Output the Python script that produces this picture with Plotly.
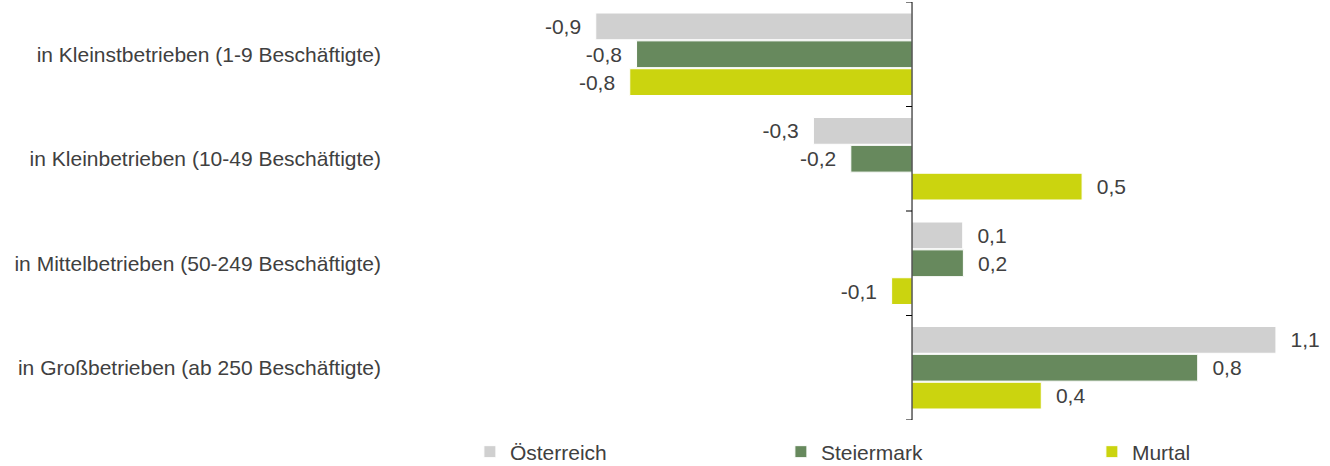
import plotly.graph_objects as go

categories = [
    "in Kleinstbetrieben (1-9 Beschäftigte)",
    "in Kleinbetrieben (10-49 Beschäftigte)",
    "in Mittelbetrieben (50-249 Beschäftigte)",
    "in Großbetrieben (ab 250 Beschäftigte)",
]
series_names = ["Österreich", "Steiermark", "Murtal"]
oesterreich = [-0.93, -0.29, 0.149, 1.07]
steiermark = [-0.81, -0.18, 0.151, 0.84]
murtal = [-0.83, 0.50, -0.06, 0.38]
series_values = [oesterreich, steiermark, murtal]
colors = ["#D0D0D0", "#67895D", "#CBD40F"]

FONT = "Liberation Sans, Arial, sans-serif"
TXT = "#404040"
NB = "\u00a0\u00a0"


def fmt(v):
    s = f"{v:.1f}".replace(".", ",")
    return s + NB if v < 0 else NB + s


fig = go.Figure()
for name, vals, col in zip(series_names, series_values, colors):
    fig.add_trace(go.Bar(
        y=categories, x=vals, orientation="h", name=name,
        marker=dict(color=col, line=dict(color="white", width=1)),
        text=[fmt(v) for v in vals], textposition="outside",
        textfont=dict(family=FONT, size=21, color=TXT),
        cliponaxis=False, hoverinfo="skip",
    ))

shapes = [dict(type="line", xref="x", yref="y", x0=0, x1=0, y0=-0.5, y1=3.5,
               line=dict(color="#000000", width=1), layer="above")]
for b in [-0.5, 0.5, 1.5, 2.5, 3.5]:
    shapes.append(dict(type="line", xref="x", yref="y", xsizemode="pixel",
                       xanchor=0, x0=-6, x1=0, y0=b, y1=b,
                       line=dict(color="#000000", width=1), layer="above"))

fig.update_layout(
    width=1330, height=466,
    margin=dict(l=390, r=0, t=2, b=46, autoexpand=False),
    paper_bgcolor="white", plot_bgcolor="white",
    barmode="group", bargap=0.2, bargroupgap=0.04,
    font=dict(family=FONT, size=21, color=TXT),
    xaxis=dict(range=[-1.535, 1.229], showgrid=False, zeroline=False,
               showticklabels=False, showline=False, ticks="",
               automargin=False),
    yaxis=dict(range=[3.5, -0.5], showgrid=False, zeroline=False,
               showline=False, ticks="", ticklabelstandoff=8,
               automargin=False,
               tickfont=dict(family=FONT, size=21, color=TXT)),
    shapes=shapes,
    legend=dict(orientation="h", x=0.085, xanchor="left",
                y=-0.0766, yanchor="middle",
                entrywidth=266, entrywidthmode="pixels",
                font=dict(family=FONT, size=21, color=TXT),
                bgcolor="rgba(0,0,0,0)", itemclick=False,
                traceorder="normal"),
)

fig.write_html(
    "out.html",
    config={"displayModeBar": False},
    post_script="document.body.style.margin='0';document.body.style.overflow='hidden';",
)
